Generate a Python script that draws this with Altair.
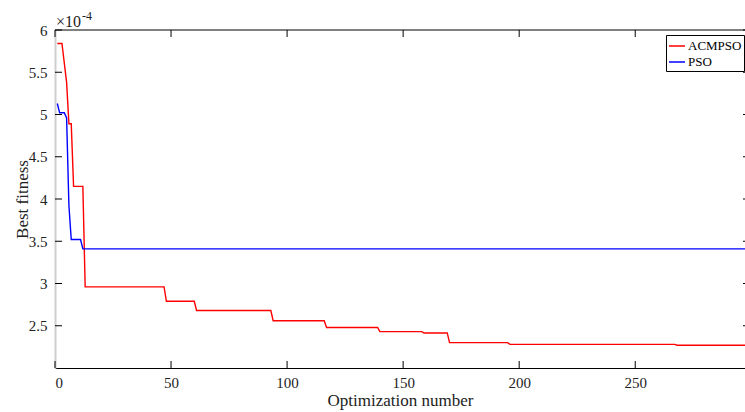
import altair as alt
import pandas as pd

# Best fitness per optimization step (values in units of 1e-4)
acmpso_iter = [1, 3, 5, 6, 7, 8, 12, 13, 47, 48, 60, 61, 93, 94, 116, 117,
               139, 140, 158, 159, 169, 170, 195, 196, 267, 268, 300]
acmpso_fit = [5.84, 5.84, 5.38, 4.89, 4.89, 4.15, 4.15, 2.96, 2.96, 2.79, 2.79, 2.68,
              2.68, 2.56, 2.56, 2.48, 2.48, 2.43, 2.43, 2.415, 2.415, 2.30, 2.30, 2.28,
              2.28, 2.27, 2.27]

pso_iter = [1, 2, 4, 5, 6, 7, 11, 12, 300]
pso_fit = [5.13, 5.02, 5.02, 4.96, 3.92, 3.52, 3.52, 3.41, 3.41]

x_ticks = [0, 50, 100, 150, 200, 250]
y_ticks = [2.5, 3, 3.5, 4, 4.5, 5, 5.5, 6]

W, H = 690, 338
X_MAX = 297.3
FONT = "Liberation Serif"

df = pd.concat([
    pd.DataFrame({"iter": acmpso_iter, "fit": acmpso_fit, "algo": "ACMPSO"}),
    pd.DataFrame({"iter": pso_iter, "fit": pso_fit, "algo": "PSO"}),
])

xs = alt.Scale(domain=[0, X_MAX], nice=False)
ys = alt.Scale(domain=[2.0, 6.0], nice=False, zero=False)

lines = alt.Chart(df).mark_line(strokeWidth=1.4, clip=True).encode(
    x=alt.X("iter:Q", scale=xs,
            axis=alt.Axis(title="Optimization number", values=x_ticks, format="d",
                          tickSize=0, labelPadding=7, titlePadding=2)),
    y=alt.Y("fit:Q", scale=ys,
            axis=alt.Axis(title="Best fitness", values=y_ticks, format="~g",
                          tickSize=0, labelPadding=8, titlePadding=-3,
                          domainColor="#cfcfcf", domainWidth=2)),
    color=alt.Color("algo:N",
                    scale=alt.Scale(domain=["ACMPSO", "PSO"], range=["#ff0000", "#0000ff"]),
                    legend=alt.Legend(title=None, orient="none", legendX=611, legendY=5,
                                      symbolType="stroke", symbolSize=256,
                                      symbolStrokeWidth=1.5, labelFont=FONT,
                                      labelFontSize=13, labelColor="#000",
                                      strokeColor="#000", fillColor="#fff",
                                      padding=2, rowPadding=0, labelOffset=2)),
    order="iter:Q",
)

xt = pd.DataFrame({"v": x_ticks})
yt = pd.DataFrame({"v": y_ticks})

# top frame line
top = alt.Chart(pd.DataFrame({"k": [0]})).mark_rule(color="#000", strokeWidth=1).encode(
    y=alt.value(0), x=alt.value(0), x2=alt.value(W))

# inward tick marks on all sides
xb = alt.Chart(xt).mark_rule(color="#000").encode(
    x=alt.X("v:Q", scale=xs), y=alt.value(H), y2=alt.value(H - 7))
xtop = alt.Chart(xt).mark_rule(color="#000").encode(
    x=alt.X("v:Q", scale=xs), y=alt.value(0), y2=alt.value(7))
yl = alt.Chart(yt).mark_rule(color="#000").encode(
    y=alt.Y("v:Q", scale=ys), x=alt.value(0), x2=alt.value(7))
yr = alt.Chart(yt).mark_rule(color="#000").encode(
    y=alt.Y("v:Q", scale=ys), x=alt.value(W - 2), x2=alt.value(W))

# axis exponent
exp_base = alt.Chart(pd.DataFrame({"t": ["\u00d710"]})).mark_text(
    font=FONT, fontSize=16, align="left", baseline="alphabetic", color="#222"
).encode(text="t:N", x=alt.value(1), y=alt.value(-3))
exp_pow = alt.Chart(pd.DataFrame({"t": ["-4"]})).mark_text(
    font=FONT, fontSize=12, align="left", baseline="alphabetic", color="#222"
).encode(text="t:N", x=alt.value(27), y=alt.value(-10))

chart = alt.layer(lines, top, xb, xtop, yl, yr, exp_base, exp_pow).properties(
    width=W, height=H,
    autosize=alt.AutoSizeParams(type="none"),
    padding={"left": 55, "top": 30, "right": 0, "bottom": 44},
    background="#ffffff",
).configure_view(
    strokeWidth=0
).configure_axis(
    grid=False, labelFont=FONT, titleFont=FONT, labelFontSize=15, titleFontSize=17,
    labelColor="#222", titleColor="#222", titleFontWeight="normal",
    domainColor="#000", domainWidth=1
)

chart.save("out.html", embed_options={"renderer": "svg", "actions": False})
